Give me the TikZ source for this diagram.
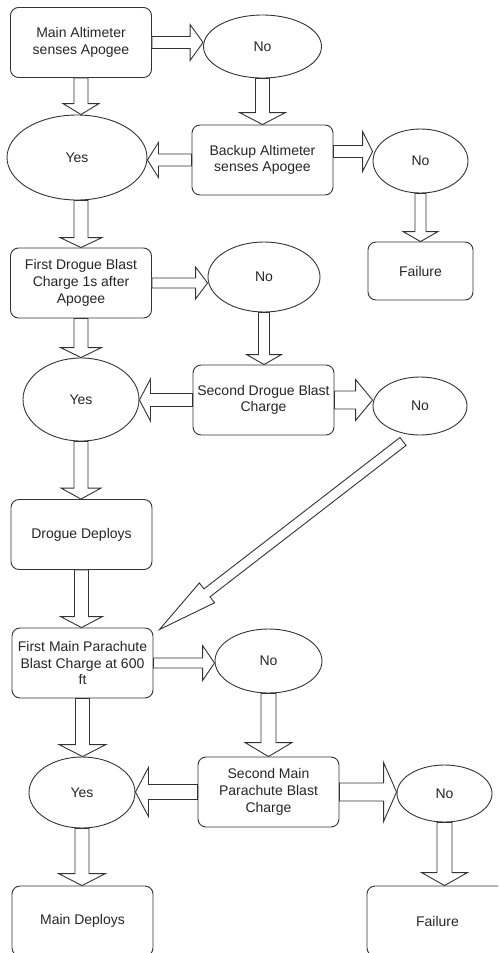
\documentclass[tikz,border=0pt]{standalone}
\usepackage{fontspec}
\setmainfont{Liberation Sans}
\usetikzlibrary{shapes.geometric}
\usetikzlibrary{calc}

\begin{document}
\begin{tikzpicture}[x=1pt,y=-1pt,line width=0.9pt,
    box node/.style={draw=black!80,rounded corners=8pt,minimum width=141pt,minimum height=70pt,align=center,inner sep=2pt,text=black!85,font=\fontsize{14}{16.7}\selectfont},
    oval node/.style={draw=black!80,ellipse,inner sep=0pt,text=black!85,font=\fontsize{14}{16.7}\selectfont},
    fat arrow/.style n args={3}{draw=black!80,fill=white,line join=miter,
      to path={let \p1=(\tikztostart), \p2=(\tikztotarget),
        \n1={atan2(\y2-\y1,\x2-\x1)}, \n2={veclen(\x2-\x1,\y2-\y1)-#3} in
        ($(\p1)+({\n1+90}:#1)$) -- ($(\p1)+(\n1:\n2)+({\n1+90}:#1)$)
        -- ($(\p1)+(\n1:\n2)+({\n1+90}:#2)$) -- (\p2)
        -- ($(\p1)+(\n1:\n2)+({\n1-90}:#2)$) -- ($(\p1)+(\n1:\n2)+({\n1-90}:#1)$)
        -- ($(\p1)+({\n1-90}:#1)$) -- cycle}}]
   \useasboundingbox (0,0) rectangle (498,953);
   \clip (0,0) rectangle (498,953);
   \begin{scope}
     % apogee
     \node[box node] (m1) at (81,42.5) {Main Altimeter\\senses Apogee};
     \node[oval node,minimum width=118pt,minimum height=63pt] (n1) at (262.5,46.5) {No};
     \node[oval node,minimum width=140pt,minimum height=85pt] (y1) at (77,157.5) {Yes};
     \node[box node] (b1) at (262.5,160) {Backup Altimeter\\senses Apogee};
     \node[oval node,minimum width=95pt,minimum height=64pt] (n2) at (420.5,161) {No};
     \node[box node,minimum width=105pt,minimum height=58pt] (f1) at (420.5,271) {Failure};
     % drogue
     \node[box node] (d1) at (81,283) {First Drogue Blast\\Charge 1s after\\Apogee};
     \node[oval node,minimum width=112pt,minimum height=70pt] (n3) at (264,277) {No};
     \node[oval node,minimum width=116pt,minimum height=83pt] (y2) at (81,399.5) {Yes};
     \node[box node] (d2) at (263.5,400) {Second Drogue Blast\\Charge};
     \node[oval node,minimum width=94pt,minimum height=58pt] (n4) at (420,406) {No};
     \node[box node] (dd) at (81.5,534.5) {Drogue Deploys};
     % main parachute
     \node[box node] (p1) at (82.5,663) {First Main Parachute\\Blast Charge at 600\\ft};
     \node[oval node,minimum width=107pt,minimum height=64pt] (n5) at (268.5,661) {No};
     \node[oval node,minimum width=106pt,minimum height=71pt] (y3) at (82,792.5) {Yes};
     \node[box node] (p2) at (268.5,792) {Second Main\\Parachute Blast\\Charge};
     \node[oval node,minimum width=95pt,minimum height=57pt] (n6) at (444.5,793.5) {No};
     \node[box node] (md) at (82.5,921) {Main Deploys};
     \node[box node] (f2) at (437.5,921) {Failure};

     \coordinate (t2) at ([yshift=8.5pt]b1.east);
     \coordinate (t4) at ([xshift=-17pt,yshift=-6pt]n4.south);
     \coordinate (t5) at ([xshift=6pt,yshift=-2pt]p1.north east);

      \path (m1.east) edge[fat arrow={6pt}{18pt}{13pt}] (m1.east -| n1.west);
      \path (m1.south) edge[fat arrow={7pt}{18pt}{11pt}] (m1.south |- y1.north);
      \path (n1.south) edge[fat arrow={7pt}{23pt}{12pt}] (n1.south |- b1.north);
      \path (b1.west) edge[fat arrow={6pt}{17.5pt}{11pt}] (b1.west -| y1.east);
      \path (t2) edge[fat arrow={6pt}{20pt}{10pt}] (t2 -| n2.west);
      \path (n2.south) edge[fat arrow={5.5pt}{17.5pt}{10pt}] (n2.south |- f1.north);
      \path (d1.north |- y1.south) edge[fat arrow={7pt}{21pt}{10pt}] (d1.north);
      \path (d1.east) edge[fat arrow={5pt}{16pt}{12pt}] (d1.east -| n3.west);
      \path (d1.south) edge[fat arrow={7pt}{20.5pt}{10pt}] (d1.south |- y2.north);
      \path (n3.south) edge[fat arrow={5.5pt}{17.5pt}{10pt}] (n3.south |- d2.north);
      \path (d2.west) edge[fat arrow={6.5pt}{21pt}{11pt}] (d2.west -| y2.east);
      \path (d2.east) edge[fat arrow={9pt}{20.5pt}{17pt}] (d2.east -| n4.west);
      \path (y2.south) edge[fat arrow={7pt}{20pt}{11pt}] (y2.south |- dd.north);
      \path (dd.south) edge[fat arrow={7pt}{21pt}{11pt}] (dd.south |- p1.north);
      \path (t4) edge[fat arrow={5pt}{12.5pt}{60pt}] (t5);
      \path (p1.east) edge[fat arrow={5pt}{17.5pt}{12pt}] (p1.east -| n5.west);
      \path (p1.south) edge[fat arrow={7pt}{23.5pt}{12pt}] (p1.south |- y3.north);
      \path (n5.south) edge[fat arrow={7.5pt}{23.5pt}{14pt}] (n5.south |- p2.north);
      \path (p2.west) edge[fat arrow={7.5pt}{24.5pt}{13pt}] (p2.west -| y3.east);
      \path (p2.east) edge[fat arrow={9pt}{29.5pt}{13pt}] (p2.east -| n6.west);
      \path (y3.south) edge[fat arrow={7pt}{23.5pt}{12pt}] (y3.south |- md.north);
      \path (n6.south) edge[fat arrow={7.5pt}{23pt}{13pt}] (n6.south |- f2.north);
   \end{scope}
\end{tikzpicture}
\end{document}
